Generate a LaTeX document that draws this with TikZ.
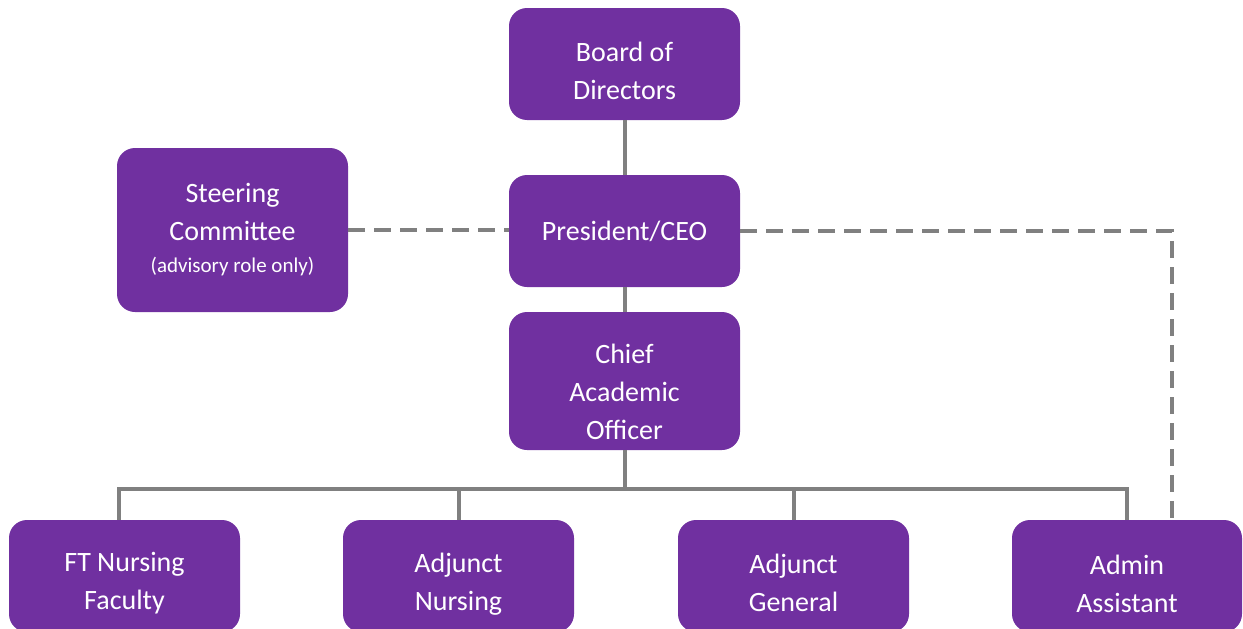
\documentclass[tikz,border=0pt]{standalone}
\usepackage{fontspec}
\setmainfont{Carlito}
\definecolor{orgpurple}{HTML}{7030A0}
\definecolor{orggray}{HTML}{808080}

\begin{document}
\begin{tikzpicture}[x=1pt,y=-1pt,
    box/.style={fill=orgpurple,rounded corners=18pt,text=white,align=center,
      minimum width=231pt,minimum height=112pt,inner sep=0pt,
      font=\fontsize{28}{38}\selectfont},
    link/.style={draw=orggray,line width=4pt},
    dotted link/.style={link,dash pattern=on 17pt off 9pt}]
  \clip (0,0) rectangle (1243,629);
  \useasboundingbox (0,0) rectangle (1243,629);

  \node (board)  at (624.5,64)  [box] {\rule{0pt}{33pt}Board of\\Directors};
  \node (pres)   at (624.5,231) [box] {President/CEO};
  \node (steer)  at (232.5,230) [box,minimum height=164pt]
    {Steering\\Committee\\[-6pt]{\fontsize{21}{26}\selectfont(advisory role only)}};
  \node (chief)  at (624.5,381) [box,minimum height=138pt]
    {\rule{0pt}{42pt}Chief\\Academic\\Officer};
  \node (ft)     at (124.5,576) [box] {\rule{0pt}{34pt}FT Nursing\\Faculty};
  \node (adjn)   at (458.5,576) [box] {\rule{0pt}{35pt}Adjunct\\Nursing};
  \node (adjg)   at (793.5,576) [box] {\rule{0pt}{34pt}Adjunct\\General};
  \node (admin)  at (1127,576)  [box,minimum width=230pt] {\rule{0pt}{35pt}Admin\\Assistant};

  \coordinate (bus)  at (0,489);
  \coordinate (side) at (1172,0);

  \draw[link] (board.south) -- (pres.north);
  \draw[link] (pres.south) -- (chief.north);
  \draw[link] (chief.south) -- (chief.south |- bus);
  \draw[link] ([xshift=-6pt]ft.north) |- (bus -| admin.north) -- (admin.north);
  \draw[link] (adjn.north) -- (adjn.north |- bus);
  \draw[link] (adjg.north) -- (adjg.north |- bus);
  \draw[dotted link] (steer.east) -- (steer.east -| pres.west);
  \draw[dotted link] (pres.east) -| (side |- admin.north);
\end{tikzpicture}
\end{document}
